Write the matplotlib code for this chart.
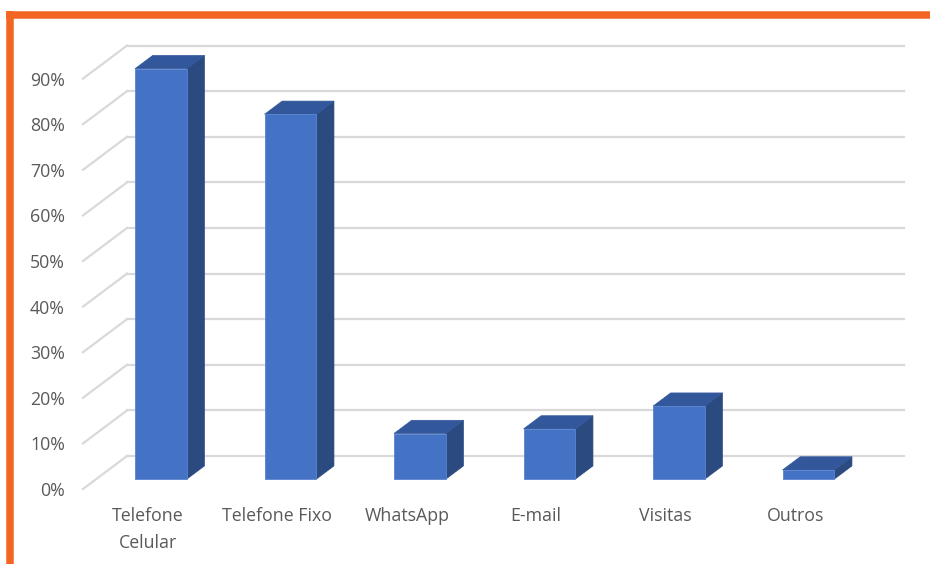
import matplotlib
matplotlib.use("Agg")
import matplotlib.pyplot as plt
from matplotlib.patches import Polygon
from matplotlib.lines import Line2D

# Data
categories = ["Telefone\nCelular", "Telefone Fixo", "WhatsApp", "E-mail", "Visitas", "Outros"]
values = [90, 80, 10, 11, 16, 2]          # percent
tick_values = [0, 10, 20, 30, 40, 50, 60, 70, 80, 90]
tick_labels = [f"{t}%" for t in tick_values]

# Colours
FRONT = "#4472C4"
TOP = "#32579B"
SIDE = "#2A4A80"
GRID = "#D9D9D9"
TEXT = "#595959"
ORANGE = "#F26522"

W, H = 930, 564
DPI = 100
fig = plt.figure(figsize=(W / DPI, H / DPI), dpi=DPI)
fig.patch.set_facecolor("white")

# Plot region in pixels (front-left floor corner to back-right top)
px_left, px_right = 83, 904
px_bottom, px_top = 489, 44
cat_px = 129.5            # pixels per category along the floor
pct_px = 4.56             # pixels per percent
depth_x_px, depth_y_px = 44, 33   # oblique offset from front to back wall

ax = fig.add_axes([px_left / W, 1 - px_bottom / H,
                   (px_right - px_left) / W, (px_bottom - px_top) / H])
ax.set_xlim(-0.5, -0.5 + (px_right - px_left) / cat_px)
ax.set_ylim(0, (px_bottom - px_top) / pct_px)
ax.set_facecolor("none")
for s in ax.spines.values():
    s.set_visible(False)

DX = depth_x_px / cat_px      # depth shift in category units
DY = depth_y_px / pct_px      # depth shift in percent units
n = len(categories)
x_back_left = -0.5 + DX
x_back_right = -0.5 + n + DX

# Walls: gridlines on back wall and left side wall
for t in tick_values:
    ax.add_line(Line2D([-0.5, x_back_left], [t, t + DY], color=GRID, lw=1.6,
                       clip_on=False, zorder=1))
    ax.add_line(Line2D([x_back_left, x_back_right], [t + DY, t + DY], color=GRID,
                       lw=1.6, clip_on=False, zorder=1))

# 3D-style bars sitting mid-depth on the floor
d0, d1 = 0.3, 0.7
half_w = 0.2
for i, v in enumerate(values):
    xl = i - half_w + d0 * DX
    xr = i + half_w + d0 * DX
    yb = d0 * DY
    yt = v + d0 * DY
    ox = (d1 - d0) * DX
    oy = (d1 - d0) * DY
    side = Polygon([(xr, yb), (xr + ox, yb + oy), (xr + ox, yt + oy), (xr, yt)],
                   closed=True, facecolor=SIDE, edgecolor=SIDE, lw=0.5,
                   clip_on=False, zorder=3)
    top = Polygon([(xl, yt), (xr, yt), (xr + ox, yt + oy), (xl + ox, yt + oy)],
                  closed=True, facecolor=TOP, edgecolor=TOP, lw=0.5,
                  clip_on=False, zorder=3)
    front = Polygon([(xl, yb), (xr, yb), (xr, yt), (xl, yt)], closed=True,
                    facecolor=FRONT, edgecolor="#5A84CF", lw=0.6,
                    clip_on=False, zorder=4)
    for p in (side, top, front):
        ax.add_patch(p)

# Axis labels
ax.set_yticks(tick_values)
ax.set_yticklabels(tick_labels)
ax.set_xticks(range(n))
ax.set_xticklabels(categories, linespacing=1.6)
ax.tick_params(axis="y", length=0, pad=13, labelsize=12.8, labelcolor=TEXT)
ax.tick_params(axis="x", length=0, pad=13.2, labelsize=12.8, labelcolor=TEXT)
for lab in ax.get_xticklabels() + ax.get_yticklabels():
    lab.set_fontfamily("Open Sans")

# Orange frame on the top and left
fig.add_artist(Line2D([6 / W, 1], [1 - 14.5 / H, 1 - 14.5 / H], color=ORANGE,
                      lw=7.5 * 72 / DPI, solid_capstyle="butt"))
fig.add_artist(Line2D([9.5 / W, 9.5 / W], [0, 1 - 11 / H], color=ORANGE,
                      lw=7.5 * 72 / DPI, solid_capstyle="butt"))

fig.savefig("out.png", dpi=DPI)
